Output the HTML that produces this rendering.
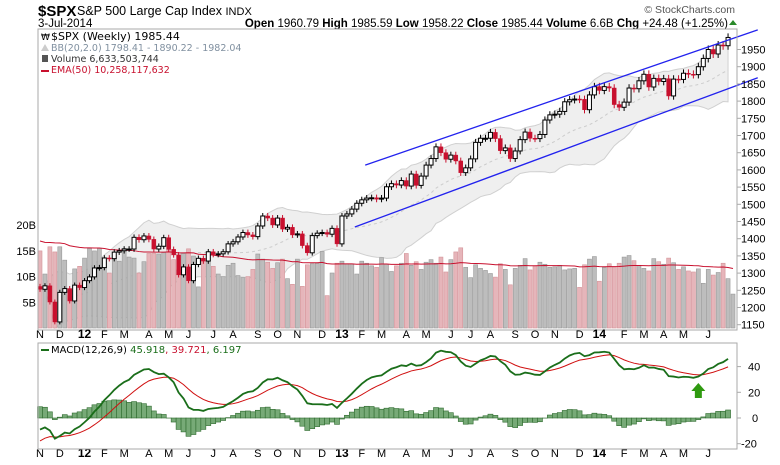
<!DOCTYPE html>
<html><head><meta charset="utf-8">
<style>
body{margin:0;background:#fff;}
svg{display:block;font-family:"Liberation Sans",sans-serif;}
</style></head>
<body>
<svg id="chart" width="780" height="465" viewBox="0 0 780 465" xmlns="http://www.w3.org/2000/svg">
<rect width="780" height="465" fill="#fff"/>
<text x="38" y="16" font-size="15" font-weight="bold">$SPX</text>
<text x="77" y="15" font-size="12.5">S&amp;P 500 Large Cap Index <tspan font-size="11">INDX</tspan></text>
<text x="38" y="27" font-size="11.5">3-Jul-2014</text>
<text x="728" y="27" font-size="11.5" text-anchor="end"><tspan font-weight="bold">Open</tspan> 1960.79  <tspan font-weight="bold">High</tspan> 1985.59  <tspan font-weight="bold">Low</tspan> 1958.22  <tspan font-weight="bold">Close</tspan> 1985.44  <tspan font-weight="bold">Volume</tspan> 6.6B  <tspan font-weight="bold">Chg</tspan> +24.48 (+1.25%)</text>
<polygon points="729,25 737,25 733,20" fill="#2a8a2a"/>
<text x="735" y="13" font-size="10.5" fill="#555" text-anchor="end">© StockCharts.com</text>
<g id="price"></g>
<g id="macd"></g>
</svg>
<script>
// ===== data =====
const closes=[1253,1263,1216,1158,1244,1255,1219,1265,1258,1278,1289,1315,1316,1344,1342,1361,1365,1370,1370,1404,1397,1408,1398,1370,1378,1403,1369,1353,1295,1318,1278,1325,1343,1335,1362,1354,1356,1362,1385,1391,1405,1418,1411,1406,1437,1466,1460,1440,1460,1428,1433,1411,1414,1380,1359,1409,1416,1418,1413,1430,1385,1466,1472,1486,1503,1513,1518,1519,1515,1518,1551,1560,1556,1569,1553,1588,1555,1582,1614,1633,1667,1650,1631,1643,1626,1592,1606,1632,1680,1692,1692,1709,1691,1656,1664,1633,1655,1688,1710,1692,1691,1703,1745,1760,1762,1770,1798,1804,1806,1805,1775,1818,1842,1831,1842,1838,1790,1782,1797,1838,1836,1859,1878,1841,1866,1857,1865,1815,1864,1863,1881,1878,1877,1900,1924,1950,1937,1963,1961,1985];
const firstOpen=1261;
const volumes=[15,10.5,15.8,14.8,15.8,13.2,6.3,11.5,12,13.6,15.5,15,15.5,13,10.7,13.9,13,15.5,13.8,13.6,10.7,12.9,14.5,14.5,14.4,14.7,16,13.3,11.3,14.5,15.4,14,8,13.3,13,12,10.5,10,12.2,12.6,10.2,9.8,10,11.4,14.4,13.4,12.8,11.6,12.7,13.4,9.6,8.5,13.4,8.1,12.3,12.5,12.6,14.9,6.3,10.7,12.6,13,12.5,12.5,10.5,13,12.6,12.1,11.8,13.7,12.4,11,12.1,12.6,14.5,12.2,12.9,11.4,12.8,13.3,12.6,13.8,10.9,13.3,14.8,15.6,11.8,9.8,12.3,11.6,11.2,10.6,9.9,12.5,11.4,8.4,11.6,12.2,13.5,11.3,12.1,12.8,12.4,11.8,11.9,12.2,11.3,11.5,11.6,7.9,12.3,13.4,13.9,9.1,11.8,12.5,11.9,12.6,13.8,14.1,13.1,12.2,11.6,11.1,13.5,12.9,12.4,13.6,12.7,11.4,11.9,11.1,10.9,11.5,8.7,11.4,10.3,10.8,12.6,9.6,6.6];
const monthLabels=["N","D","12","F","M","A","M","J","J","A","S","O","N","D","13","F","M","A","M","J","J","A","S","O","N","D","14","F","M","A","M","J"];
const monthIdx=[0,4,9,13,17,22,26,30,35,39,44,48,52,57,61,65,69,74,78,83,87,91,96,100,104,109,113,118,122,126,130,135];
const priceTicks=[1950,1900,1850,1800,1750,1700,1650,1600,1550,1500,1450,1400,1350,1300,1250,1200,1150];
const volTicks=[20,15,10,5];
const macdTicks=[40,20,0,-20];
const channelUpper=[[65.7,1614],[145,2007]];
const channelLower=[[63.6,1434],[145,1868]];
const macdSeed={ema12:1250,ema26:1260,signal:-20};

// ===== axes =====
const L=38,R=737,PT=29,PB=330,MT=343,MB=449;
const xs=i=>40+i*4.95;
const py=p=>49.5+(1950-p)*0.344;
const vy=v=>328-v*5.14;
const my=v=>418-v*1.285;
const NS="http://www.w3.org/2000/svg";
function mk(tag,attrs,parent){const e=document.createElementNS(NS,tag);for(const k in attrs)e.setAttribute(k,attrs[k]);parent.appendChild(e);return e;}
const pg=document.getElementById('price'), mg=document.getElementById('macd');
const svg=document.getElementById('chart');
const defs=mk('defs',{},svg);
const cp=mk('clipPath',{id:'pclip'},defs);mk('rect',{x:L,y:PT,width:R-L,height:PB-PT},cp);
const opens=closes.map((c,i)=>i?closes[i-1]:firstOpen);

const pc=mk('g',{'clip-path':'url(#pclip)'},pg);

// Bollinger bands
let up=[],lo=[],mid=[];
closes.forEach((c,i)=>{const s=closes.slice(Math.max(0,i-19),i+1);const m=s.reduce((a,b)=>a+b,0)/s.length;const sd=Math.sqrt(s.reduce((a,b)=>a+(b-m)*(b-m),0)/s.length);mid.push(m);up.push(m+2*sd);lo.push(m-2*sd);});
let d='M'+closes.map((c,i)=>xs(i)+','+py(up[i])).join('L')+'L'+closes.map((c,i)=>xs(i)+','+py(lo[i])).reverse().join('L')+'Z';
let bb=mk('path',{d:d,fill:'#efefef',stroke:'#d0d0d0','stroke-width':1},pc);


let bm=mk('path',{d:'M'+mid.map((m,i)=>xs(i)+','+py(m)).join('L'),fill:'none',stroke:'#ccc','stroke-dasharray':'3,3'},pc);



volumes.forEach((v,i)=>{const down=closes[i]<opens[i];
 const r=mk('rect',{x:xs(i)-2,y:vy(v),width:4,height:328-vy(v),fill:down?'#e6b5ba':'#bdbdbd',stroke:down?'#d49499':'#999','stroke-width':0.6},pc);
 
 
});
let e=17,ema=[];volumes.forEach(v=>{e=e+(v-e)*2/51;ema.push(e);});
let el=mk('path',{d:'M'+ema.map((v,i)=>xs(i)+','+vy(v)).join('L'),fill:'none',stroke:'#c8102e','stroke-width':1},pc);



closes.forEach((c,i)=>{const o=opens[i];const down=c<o;const hi=Math.max(o,c)*1.006,lw=Math.min(o,c)*0.994;
 const col=down?'#c8102e':'#000';
 const w=mk('line',{x1:xs(i),x2:xs(i),y1:py(hi),y2:py(lw),stroke:col,'stroke-width':1},pc);
 
 
 const top=py(Math.max(o,c)),h=Math.max(1,py(Math.min(o,c))-top);
 const b=mk('rect',{x:xs(i)-2,y:top,width:4,height:h,fill:down?'#c8102e':'#fff',stroke:col,'stroke-width':down?0.5:1},pc);
 
 
});
[channelUpper,channelLower].forEach((ln,k)=>{
 const l=mk('line',{x1:xs(ln[0][0]),y1:py(ln[0][1]),x2:xs(ln[1][0]),y2:py(ln[1][1]),stroke:'#2222ee','stroke-width':1.3},pg);
 
 
});
let pb=mk('rect',{x:L,y:PT,width:R-L,height:PB-PT,fill:'none',stroke:'#aaa'},pg);


priceTicks.forEach(p=>{mk('line',{x1:R,x2:R+4,y1:py(p),y2:py(p),stroke:'#aaa'},pg);
 const t=mk('text',{x:741,y:py(p)+4,'font-size':11},pg);t.textContent=p;
 
 });
volTicks.forEach(v=>{const t=mk('text',{x:36,y:vy(v)+4,'font-size':11,'text-anchor':'end'},pg);t.textContent=v+'B';
 
 });
const lg=mk('g',{'font-family':'DejaVu Sans, sans-serif','font-size':10},pg);


[['$SPX (Weekly) 1985.44','#000',40,'11'],['BB(20,2.0) 1798.41 - 1890.22 - 1982.04','#8090a0',51,'9.5'],['Volume 6,633,503,744','#333',62,'9.5'],['EMA(50) 10,258,117,632','#c8102e',73,'9.5']].forEach(a=>{
 const t=mk('text',{x:51,y:a[2],fill:a[1],'font-size':a[3]},lg);t.textContent=a[0];});
mk('text',{x:41,y:40,'font-size':9},lg).textContent='₩';
mk('rect',{x:41,y:70,width:8,height:2,fill:'#c8102e'},lg);
mk('rect',{x:42,y:55,width:6,height:7,fill:'#555'},lg);
mk('polygon',{points:'41,51 45,44 49,51',fill:'#ccc'},lg);

[338,457].forEach((yy,k)=>monthLabels.forEach((m,j)=>{
 const t=mk('text',{x:xs(monthIdx[j]),y:yy,'font-size':(m.length>1?12:11),'font-weight':(m.length>1?'bold':'normal'),'text-anchor':'middle'},k?mg:pg);
 t.textContent=m;
 
 
}));

let e12=macdSeed.ema12,e26=macdSeed.ema26,sg=macdSeed.signal,mac=[],sig=[];
closes.forEach(c=>{e12+= (c-e12)*2/13;e26+=(c-e26)*2/27;const m=e12-e26;sg+=(m-sg)*2/10;mac.push(m);sig.push(sg);});
mac.forEach((m,i)=>{const h=m-sig[i];
 const r=mk('rect',{x:xs(i)-2.5,y:Math.min(my(0),my(h)),width:5,height:Math.abs(my(h)-my(0)),fill:'#77aa77',stroke:'#2d6a2d','stroke-width':0.6},mg);
 
 });
let sl=mk('path',{d:'M'+sig.map((v,i)=>xs(i)+','+my(v)).join('L'),fill:'none',stroke:'#d01010','stroke-width':1},mg);


let ml=mk('path',{d:'M'+mac.map((v,i)=>xs(i)+','+my(v)).join('L'),fill:'none',stroke:'#1a6e1a','stroke-width':1.8},mg);


let mb=mk('rect',{x:L,y:MT,width:R-L,height:MB-MT,fill:'none',stroke:'#aaa'},mg);


macdTicks.forEach(v=>{mk('line',{x1:R,x2:R+4,y1:my(v),y2:my(v),stroke:'#aaa'},mg);
 const t=mk('text',{x:v<0?741:(v?748:752),y:my(v)+4,'font-size':11},mg);t.textContent=v;
 
 });
const mt=mk('text',{x:51,y:353,'font-family':'DejaVu Sans, sans-serif','font-size':10},mg);
mt.innerHTML='<tspan>MACD(12,26,9) </tspan><tspan fill="#1a6e1a">45.918</tspan><tspan fill="#c8102e">, 39.721</tspan><tspan fill="#1a6e1a">, 6.197</tspan>';


mk('rect',{x:41,y:349,width:8,height:2,fill:'#1a6e1a'},mg);
const ar=mk('polygon',{points:`${xs(133)},383 ${xs(133)+7},391 ${xs(133)+3.5},391 ${xs(133)+3.5},398 ${xs(133)-3.5},398 ${xs(133)-3.5},391 ${xs(133)-7},391`,fill:'#2f9a10'},mg);


</script>
</body></html>
